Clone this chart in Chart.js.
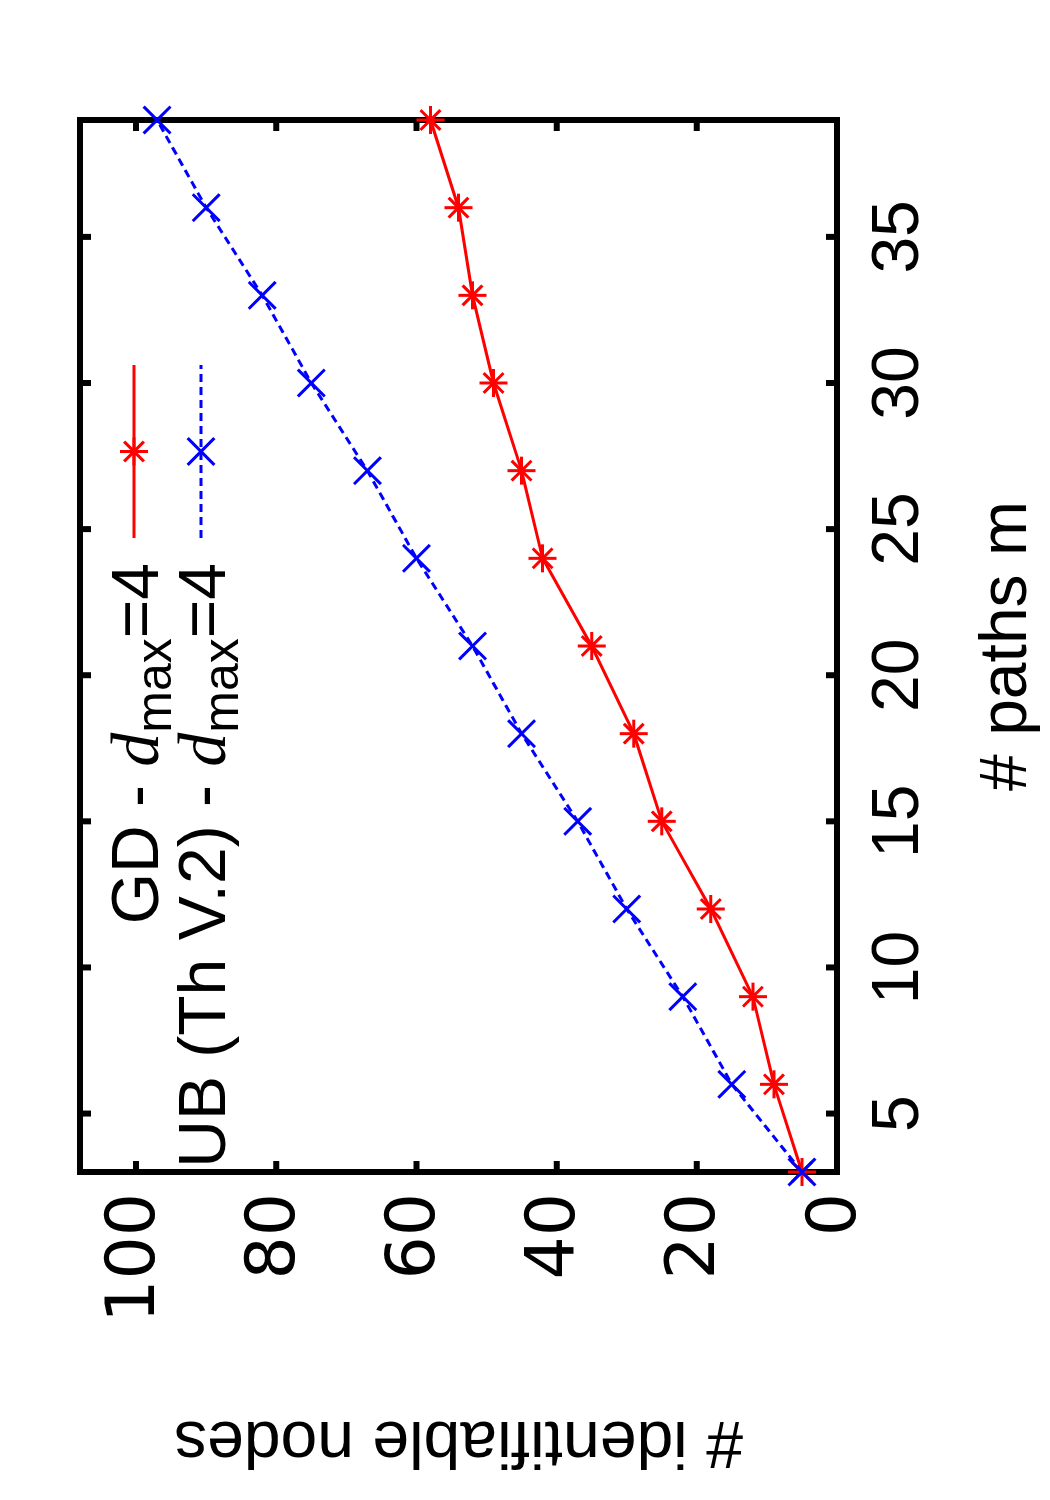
<!DOCTYPE html>
<html>
<head>
<meta charset="utf-8">
<script src="https://cdn.jsdelivr.net/npm/chart.js@4.4.0/dist/chart.umd.min.js"></script>
<style>
html, body { margin: 0; padding: 0; background: #fff; overflow: hidden; }
/* the plot is drawn landscape and turned a quarter turn, like the original figure */
#wrap { position: absolute; left: 0; top: 0; width: 1500px; height: 1050px;
        transform-origin: 0 0; transform: translate(0, 1500px) rotate(-90deg); }
</style>
</head>
<body>
<div id="wrap"><canvas id="myChart" width="1500" height="1050"></canvas></div>
<script>
// number of paths m
var paths = [3, 6, 9, 12, 15, 18, 21, 24, 27, 30, 33, 36, 39];
// GD - d_max=4
var gdNodes = [5, 9, 12, 18, 25, 29, 35, 42, 45, 49, 52, 54, 58];
// UB (Th V.2) - d_max=4
var ubNodes = [5, 15, 22, 30, 37, 45, 52, 60, 67, 75, 82, 90, 97];

var legendNames = ['GD', 'UB (Th V.2)'];
var xTicks = [5, 10, 15, 20, 25, 30, 35];
var yTicks = [0, 20, 40, 60, 80, 100];

var FONT = '"Liberation Sans", Arial, Helvetica, sans-serif';
Chart.defaults.font.family = FONT;
Chart.defaults.color = '#000';

var ctx = document.getElementById('myChart').getContext('2d');

function toPoints(ys) {
    return paths.map(function (m, i) { return { x: m, y: ys[i] }; });
}

// frame with inward ticks on all four sides (gnuplot style)
var frameTicks = {
    id: 'frameTicks',
    beforeDatasetsDraw: function (chart) {
        var c = chart.ctx, a = chart.chartArea, x = chart.scales.x, y = chart.scales.y;
        var t = 11;
        c.save();
        c.strokeStyle = '#000';
        c.lineWidth = 6;
        c.lineJoin = 'miter';
        c.beginPath();
        xTicks.forEach(function (v) {
            var p = x.getPixelForValue(v);
            c.moveTo(p, a.bottom); c.lineTo(p, a.bottom - t);
            c.moveTo(p, a.top); c.lineTo(p, a.top + t);
        });
        yTicks.forEach(function (v) {
            var p = y.getPixelForValue(v);
            c.moveTo(a.left, p); c.lineTo(a.left + t, p);
            c.moveTo(a.right, p); c.lineTo(a.right - t, p);
        });
        c.stroke();
        c.strokeRect(a.left, a.top, a.right - a.left, a.bottom - a.top);
        c.restore();
    }
};

// key in the top right corner: text right aligned, then line sample with point
var keyBox = {
    id: 'keyBox',
    afterDatasetsDraw: function (chart) {
        var c = chart.ctx;
        var textRight = 937, lineFrom = 962, lineTo = 1135, rowH = 67, row0 = 134;
        c.save();
        chart.data.datasets.forEach(function (ds, i) {
            var mid = row0 + i * rowH;
            var parts = [
                [legendNames[i] + ' - ', '66px ' + FONT, 0],
                ['d', 'italic 68px "Liberation Serif", serif', 0],
                ['max', '50px ' + FONT, 13],
                ['=4', '66px ' + FONT, 0]
            ];
            var total = 0;
            parts.forEach(function (p) { c.font = p[1]; p.push(c.measureText(p[0]).width); total += p[3]; });
            var px = textRight - total;
            c.fillStyle = '#000';
            c.textBaseline = 'alphabetic';
            c.textAlign = 'left';
            parts.forEach(function (p) { c.font = p[1]; c.fillText(p[0], px, mid + 24 + p[2]); px += p[3]; });

            c.strokeStyle = ds.borderColor;
            c.lineWidth = ds.borderWidth;
            c.setLineDash(ds.borderDash || []);
            c.beginPath();
            c.moveTo(lineFrom, mid);
            c.lineTo(lineTo, mid);
            c.stroke();
            c.setLineDash([]);
            c.lineWidth = ds.pointBorderWidth;
            Chart.helpers.drawPoint(c, {
                pointStyle: ds.pointStyle, radius: ds.pointRadius,
                borderWidth: ds.pointBorderWidth, rotation: 0
            }, (lineFrom + lineTo) / 2, mid);
        });
        c.restore();
    }
};

var config = {
    type: 'line',
    data: {
        datasets: [
            {
                label: 'GD - d_max=4',
                data: toPoints(gdNodes),
                borderColor: '#ff0000',
                backgroundColor: '#ff0000',
                borderWidth: 3,
                pointStyle: 'star',
                pointRadius: 14,
                pointBorderWidth: 3,
                pointBorderColor: '#ff0000',
                tension: 0,
                fill: false,
                clip: false,
                order: 1
            },
            {
                label: 'UB (Th V.2) - d_max=4',
                data: toPoints(ubNodes),
                borderColor: '#0000ff',
                backgroundColor: '#0000ff',
                borderWidth: 3,
                borderDash: [8, 5],
                pointStyle: 'crossRot',
                pointRadius: 19,
                pointBorderWidth: 3,
                pointBorderColor: '#0000ff',
                tension: 0,
                fill: false,
                clip: false,
                order: 0
            }
        ]
    },
    options: {
        responsive: false,
        animation: false,
        events: [],
        layout: { padding: { top: 80, right: 120, left: 0, bottom: 0 } },
        plugins: {
            legend: { display: false },
            tooltip: { enabled: false }
        },
        scales: {
            x: {
                type: 'linear',
                min: 3,
                max: 39,
                afterBuildTicks: function (s) { s.ticks = xTicks.map(function (v) { return { value: v }; }); },
                afterFit: function (s) { s.height = 213; },
                grid: { display: false, drawTicks: false },
                border: { display: false },
                ticks: { padding: 23, font: { size: 66 }, maxRotation: 0, autoSkip: false },
                title: { display: true, text: '# paths m', font: { size: 66 }, padding: { top: 0, bottom: 3 } }
            },
            y: {
                type: 'linear',
                min: 0,
                max: 108,
                afterBuildTicks: function (s) { s.ticks = yTicks.map(function (v) { return { value: v }; }); },
                afterFit: function (s) { s.width = 328; },
                grid: { display: false, drawTicks: false },
                border: { display: false },
                ticks: { padding: 21, font: { family: '"DejaVu Sans", sans-serif', size: 68 }, autoSkip: false },
                title: { display: true, text: '# identifiable nodes', font: { size: 66 }, padding: { top: 20, bottom: 0 } }
            }
        }
    },
    plugins: [frameTicks, keyBox]
};

var chart = new Chart(ctx, config);
</script>
</body>
</html>
